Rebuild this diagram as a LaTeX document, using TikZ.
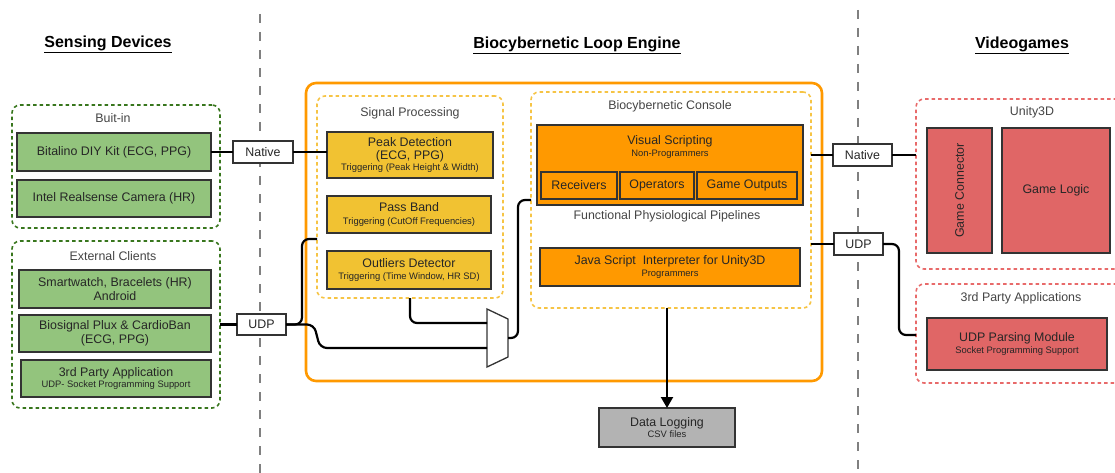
\documentclass[tikz,border=0pt]{standalone}
\usepackage{fontspec}
\setmainfont{Liberation Sans}
\usetikzlibrary{arrows.meta}
\definecolor{gfill}{HTML}{93C47D}
\definecolor{gdash}{HTML}{38761D}
\definecolor{yfill}{HTML}{F1C232}
\definecolor{ydash}{HTML}{F6C445}
\definecolor{ofill}{HTML}{FF9900}
\definecolor{rfill}{HTML}{E06666}
\definecolor{rdash}{HTML}{E86A6A}
\definecolor{grfill}{HTML}{B3B3B3}
\definecolor{bord}{HTML}{333333}
\definecolor{txt}{HTML}{262626}
\definecolor{lbltxt}{HTML}{444444}
\definecolor{vgray}{HTML}{808080}
\newcommand\sm{\fontsize{9.4}{10.5}\selectfont}
\newcommand\rbx[7]{\node[#2, minimum width={(#5-#3)*1pt}, minimum height={(#6-#4)*1pt}] (#1) at ({(#3+#5)/2},{(#4+#6)/2}) {#7};}
\tikzset{
  every node/.style={font=\fontsize{12.4}{14.5}\selectfont, text=txt},
  bx/.style={draw=bord, line width=1.6pt, inner sep=1pt, outer sep=0pt, align=center},
  gbox/.style={bx, fill=gfill},
  ybox/.style={bx, fill=yfill},
  obox/.style={bx, fill=ofill},
  rbox/.style={bx, fill=rfill},
  graybox/.style={bx, fill=grfill},
  wbox/.style={bx, fill=white},
  grp/.style={draw, line width=1.6pt, rounded corners=8pt, dash pattern=on 3.5pt off 3pt, inner sep=0pt, outer sep=0pt},
  ggrp/.style={grp, draw=gdash},
  ygrp/.style={grp, draw=ydash},
  rgrp/.style={grp, draw=rdash},
  glabel/.style={text=lbltxt, inner sep=0pt},
  title/.style={font=\fontsize{16}{18}\selectfont\bfseries, text=black},
  wire/.style={draw=black, line width=2.2pt, rounded corners=7pt},
  vline/.style={draw=vgray, line width=1.5pt, dash pattern=on 9pt off 9pt}
}
\begin{document}
\begin{tikzpicture}[x=1pt,y=-1pt]
\useasboundingbox (0,0) rectangle (1115,473);
% separators
\draw[vline] (260,14) -- (260,473);
\draw[vline] (858,10) -- (858,473);
% titles
\node[title] (t1) at (108,44) {\underline{Sensing Devices}};
\node[title] (t2) at (577,45) {\underline{Biocybernetic Loop Engine}};
\node[title] (t3) at (1022,45) {\underline{Videogames}};
% sensing devices
\rbx{bi}{ggrp}{12}{105}{220}{228}{}
\node[glabel] (bil) at (113,118) {Buit-in};
\rbx{bit}{gbox}{17}{133}{211}{171}{Bitalino DIY Kit (ECG, PPG)}
\rbx{intel}{gbox}{17}{180}{211}{217}{Intel Realsense Camera (HR)}
\rbx{ext}{ggrp}{12}{241}{220}{408}{}
\node[glabel] (extl) at (113,256) {External Clients};
\rbx{sw}{gbox}{19}{270}{211}{308}{Smartwatch, Bracelets (HR)\\[-1pt]Android}
\rbx{bs}{gbox}{19}{315}{211}{352}{Biosignal Plux \& CardioBan\\[-1pt](ECG, PPG)}
\rbx{tpa}{gbox}{21}{360}{211}{397}{3rd Party Application\\[-3pt]{\sm UDP- Socket Programming Support}}
% engine
\draw[draw=ofill, line width=2.6pt, rounded corners=10pt] (306,83) rectangle (822,381);
\rbx{sp}{ygrp}{317}{96}{503}{298}{}
\node[glabel] (spl) at (410,113) {Signal Processing};
\rbx{peak}{ybox}{327}{132}{493}{178}{Peak Detection\\[-2pt](ECG, PPG)\\[-3pt]{\sm Triggering (Peak Height \& Width)}}
\rbx{pass}{ybox}{327}{196}{491}{233}{Pass Band\\[-2pt]{\sm Triggering (CutOff Frequencies)}}
\rbx{out}{ybox}{327}{251}{491}{289}{Outliers Detector\\[-2pt]{\sm Triggering (Time Window, HR SD)}}
\rbx{bc}{ygrp}{531}{92}{811}{308}{}
\node[glabel] (bcl) at (670,106) {Biocybernetic Console};
\rbx{vs}{obox}{537}{125}{803}{205}{}
\node[inner sep=0pt, align=center] (vsl) at (670,147) {Visual Scripting\\[-3pt]{\sm Non-Programmers}};
\rbx{rec}{obox}{541}{172}{617}{199}{Receivers}
\rbx{op}{obox}{620}{172}{694}{199}{Operators}
\rbx{go}{obox}{697}{172}{797}{199}{Game Outputs}
\node[glabel] (fpp) at (667,216) {Functional Physiological Pipelines};
\rbx{js}{obox}{540}{248}{800}{286}{Java Script\ \ Interpreter for Unity3D\\[-3pt]{\sm Programmers}}
% mux
\draw[draw=bord, line width=1.3pt, fill=white] (487,309) -- (508,319) -- (508,357) -- (487,367) -- cycle;
\coordinate (muxin1) at (487,323);
\coordinate (muxin2) at (487,348);
\coordinate (muxout) at (508,338);
% data logging
\rbx{dl}{graybox}{599}{408}{735}{447}{Data Logging\\[-3pt]{\sm CSV files}}
% videogames
\rbx{ug}{rgrp}{916}{99}{1125}{269}{}
\node[glabel] (ugl) at (1032,112) {Unity3D};
\rbx{gc}{rbox}{927}{128}{992}{253}{}
\node[rotate=90, inner sep=0pt] (gcl) at (959.5,190.5) {Game Connector};
\rbx{gl}{rbox}{1002}{128}{1110}{253}{Game Logic}
\rbx{tp}{rgrp}{916}{284}{1125}{383}{}
\node[glabel] (tpl) at (1021,298) {3rd Party Applications};
\rbx{udpm}{rbox}{927}{318}{1107}{370}{UDP Parsing Module\\[-3pt]{\sm Socket Programming Support}}
% connector labels
\rbx{nat1}{wbox}{233}{141}{293}{163}{Native}
\rbx{udp1}{wbox}{237}{314}{286}{335}{UDP}
\rbx{nat2}{wbox}{833}{144}{892}{166}{Native}
\rbx{udp2}{wbox}{834}{233}{883}{255}{UDP}
% wires
\draw[wire] (bit.east) -- (nat1.west);
\draw[wire] (nat1.east) -- (nat1.east -| peak.west);
\draw[wire] (ext.east) -- (udp1.west);
\draw[wire] (udp1.east) -- (302,324.5) -- (302,239) -- (sp.west |- 0,239);
\draw[wire] (udp1.east) -- (314,324.5) -- (320,348) -- (muxin2);
\draw[wire] (sp.south) -- (410,323) -- (muxin1);
\draw[wire] (muxout) -- (518,338) -- (518,200) -- (bc.west |- 0,200);
\draw[wire] (bc.east |- 0,155) -- (nat2.west);
\draw[wire] (nat2.east) -- (ug.west |- 0,155);
\draw[wire] (bc.east |- 0,244) -- (udp2.west);
\draw[wire] (udp2.east) -- (899,244) -- (899,335) -- (tp.west |- 0,335);
\draw[wire, -{Triangle[width=12pt,length=11pt]}] (dl.north |- bc.south) -- (dl.north);
\end{tikzpicture}
\end{document}
